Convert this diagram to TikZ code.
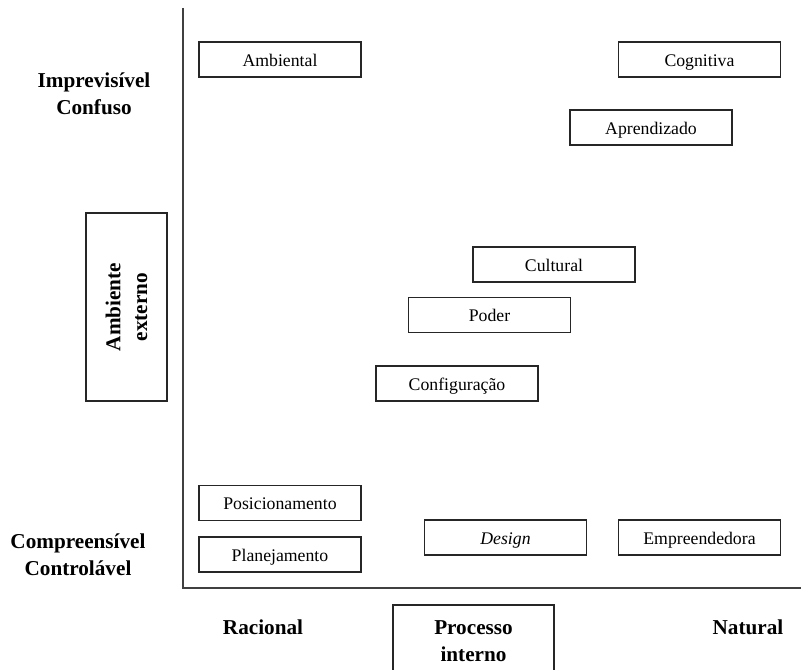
\documentclass[tikz,border=0pt]{standalone}
\usepackage{fontspec}
\setmainfont{Liberation Serif}
\usetikzlibrary{positioning,calc}
\tikzset{
	escola/.style={
		rectangle, draw=black!85, line width=0.8pt, minimum width=121.5pt,
		minimum height=26.25pt, inner sep=0pt, text height=11pt, text depth=1pt,
		font=\fontsize{13.3}{16}\selectfont
	},
	%
	dimensao/.style={
		rectangle, draw=black!85, line width=0.8pt, inner sep=0pt,
		align=center, font=\fontsize{15.9}{20}\selectfont\bfseries
	},
	%
	rotulo/.style={
		align=center, inner sep=0pt, font=\fontsize{15.9}{20}\selectfont\bfseries
	},
	%
	eixo/.style={
		line width=0.8pt, draw=black!75
	}
}
\begin{document}
\begin{tikzpicture}[x=0.75pt,y=-0.75pt]
    \useasboundingbox (0,0) rectangle (801,670);
    \coordinate(topo) at (183,8);
    \coordinate(origem) at (183,588);
    \coordinate(fim) at (801,588);
    \draw[eixo] (topo) -- (origem) -- (fim);
    \node(Ambiental)[escola] at (280,59.5){Ambiental};
    \node(Cognitiva)[escola] at (699.5,59.5){Cognitiva};
    \node(Aprendizado)[escola] at (651,127.5){Aprendizado};
    \node(Cultural)[escola] at (554,264.5){Cultural};
    \node(Poder)[escola] at (489.5,315){Poder};
    \node(Configuracao)[escola] at (457,383.5){Configuração};
    \node(Posicionamento)[escola] at (280,503){Posicionamento};
    \node(Planejamento)[escola] at (280,554.5){Planejamento};
    \node(Design)[escola] at (505.5,537.5){\textit{Design}};
    \node(Empreendedora)[escola] at (699.5,537.5){Empreendedora};
    \node(Imprevisivel)[rotulo] at (94,93.5){Imprevisível\\Confuso};
    \node(Compreensivel)[rotulo] at (78,554.5){Compreensível\\Controlável};
    \node(Racional)[rotulo] at (263,627){Racional};
    \node(Natural)[rotulo] at (748,627){Natural};
    \node(Ambiente)[dimensao, rotate=90, minimum width=141pt, minimum height=60.75pt] at (126.5,307){Ambiente\\externo};
    \node(Processo)[dimensao, minimum width=120.75pt, minimum height=54pt] at (473.5,641){Processo\\interno};
\end{tikzpicture}
\end{document}
